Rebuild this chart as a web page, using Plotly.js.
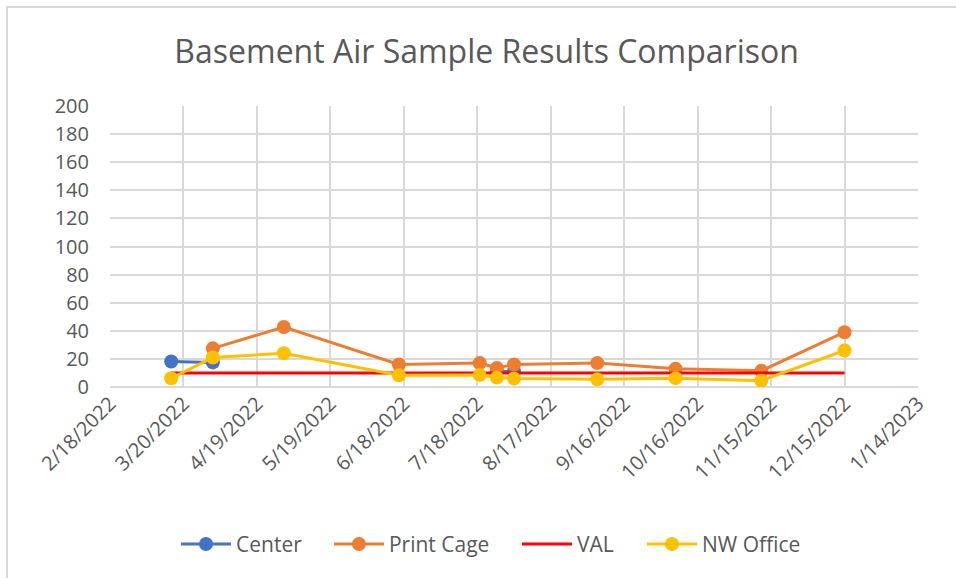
<!DOCTYPE html>
<html>
<head>
<meta charset="utf-8">
<script src="https://cdn.plot.ly/plotly-3.0.1.min.js"></script>
<style>
html,body{margin:0;padding:0;background:#fff;}
#frame{position:absolute;left:0;top:0;width:956px;height:578px;}
#bl{position:absolute;left:6px;top:6px;width:950px;height:572px;border-left:2px solid #d9d9d9;border-top:2px solid #d9d9d9;box-sizing:border-box;pointer-events:none;}
#chart{position:absolute;left:0;top:0;width:956px;height:578px;}
</style>
</head>
<body>
<div id="frame">
<div id="chart"></div>
<div id="bl"></div>
</div>
<script>
// Sample dates
var dates = ['2022-03-15','2022-04-01','2022-04-30','2022-06-16','2022-07-19','2022-07-26','2022-08-02','2022-09-05','2022-10-07','2022-11-11','2022-12-15'];
// Series values
var center    = [18.2, 17.5, null, null, null, 11, 11, null, null, null, null];
var printCage = [null, 27.5, 42.7, 16, 17, 13.5, 16, 17, 13, 11.5, 39];
var val       = [10, 10, 10, 10, 10, 10, 10, 10, 10, 10, 10];
var nwOffice  = [6.2, 21, 24, 8.3, 8.6, 6.7, 6, 5.5, 6.3, 4.5, 26];
// Axis ticks
var tickDates  = ['2022-02-18','2022-03-20','2022-04-19','2022-05-19','2022-06-18','2022-07-18','2022-08-17','2022-09-16','2022-10-16','2022-11-15','2022-12-15','2023-01-14'];
var tickLabels = ['2/18/2022','3/20/2022','4/19/2022','5/19/2022','6/18/2022','7/18/2022','8/17/2022','9/16/2022','10/16/2022','11/15/2022','12/15/2022','1/14/2023'];
var yTicks = [0,20,40,60,80,100,120,140,160,180,200];

var FONT = 'Open Sans, Noto Sans, sans-serif';
function series(name, y, color, markers, leg){
  return {
    type:'scatter', x:dates, y:y, name:name, legend:leg,
    mode: markers ? 'lines+markers' : 'lines',
    connectgaps:false,
    line:{color:color, width:3},
    marker:{color:color, size:14}
  };
}
var data = [
  series('Center', center, '#4472C4', true, 'legend'),
  series('Print Cage', printCage, '#ED7D31', true, 'legend2'),
  series('VAL', val, '#FF0000', false, 'legend3'),
  series('NW Office', nwOffice, '#FFC000', true, 'legend4')
];
function leg(x){
  return {orientation:'h', x:x, xanchor:'left', y:-0.56, yanchor:'middle', bgcolor:'rgba(0,0,0,0)',
          font:{family:FONT, size:21, color:'#595959'}, itemwidth:50};
}
var layout = {
  width:956, height:578,
  margin:{l:110, r:38, t:106, b:191},
  paper_bgcolor:'rgba(0,0,0,0)', plot_bgcolor:'#fff',
  title:{text:'Basement Air Sample Results Comparison', x:0.509, xanchor:'center', y:0.91, yanchor:'middle',
         font:{family:FONT, size:32, color:'#595959'}},
  xaxis:{type:'date', range:[tickDates[0], tickDates[tickDates.length-1]],
         tickmode:'array', tickvals:tickDates, ticktext:tickLabels, tickangle:-45,
         showgrid:true, gridcolor:'#d9d9d9', gridwidth:2,
         showline:false, zeroline:false, ticks:'',
         tickfont:{family:FONT, size:20, color:'#595959'}},
  yaxis:{range:[0,200], tickmode:'array', tickvals:yTicks,
         showgrid:true, gridcolor:'#d9d9d9', gridwidth:2,
         showline:false, zeroline:true, zerolinecolor:'#d9d9d9', zerolinewidth:2,
         ticks:'', ticklen:0, ticklabelstandoff:20,
         tickfont:{family:FONT, size:20, color:'#595959'}},
  showlegend:true,
  legend:leg(0.0817),
  legend2:leg(0.2710),
  legend3:leg(0.5037),
  legend4:leg(0.6584)
};
Plotly.newPlot('chart', data, layout, {displayModeBar:false, staticPlot:true});
</script>
</body>
</html>
